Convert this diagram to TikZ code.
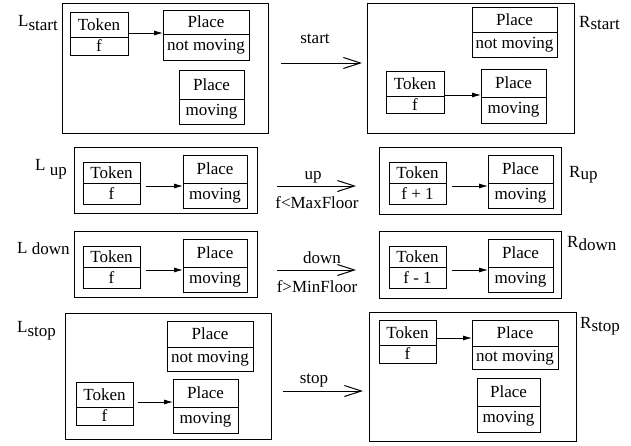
\documentclass[tikz,border=0pt]{standalone}
\usepackage{fontspec}
\setmainfont{Liberation Serif}
\usetikzlibrary{positioning, arrows.meta}

\begin{document}
\begin{tikzpicture}[x=1pt, y=-1pt,
    every node/.style={font=\fontsize{17}{20}\selectfont},
    graphbox/.style={draw, line width=0.8pt},
    cell/.style={draw, line width=0.8pt, inner sep=0pt, outer sep=0pt},
    topcell/.style={cell, anchor=north west},
    link/.style={-{Latex[length=9pt, width=5pt]}, line width=0.8pt},
    rewrite/.style={-{Straight Barb[length=17pt, width=11pt]}, line width=1pt},
    sidelabel/.style={anchor=base west, inner sep=0pt}]
  \useasboundingbox (0,0) rectangle (631,445);

  % start
  \draw[graphbox] (62,3) rectangle (268,133);
  \node[topcell, minimum width=58pt, minimum height=25pt] (tokLs) at (70,12) {Token};
  \node[cell, minimum width=58pt, minimum height=18pt, below=0pt of tokLs] (tokLsv) {f};
  \node[topcell, minimum width=86pt, minimum height=24pt] (nmLs) at (163,10) {Place};
  \node[cell, minimum width=86pt, minimum height=26pt, below=0pt of nmLs] (nmLsv) {not moving};
  \node[topcell, minimum width=65pt, minimum height=29pt] (mvLs) at (179,70) {Place};
  \node[cell, minimum width=65pt, minimum height=25pt, below=0pt of mvLs] (mvLsv) {moving};
  \draw[link] ([yshift=4pt]tokLs.south east) -- ([yshift=4pt]tokLs.south east -| nmLs.west);
  \node[sidelabel] (Lstart) at (18,26) {L\raisebox{-4pt}{start}};

  \draw[graphbox] (367,3) rectangle (574,133);
  \node[topcell, minimum width=85pt, minimum height=25pt] (nmRs) at (472,7) {Place};
  \node[cell, minimum width=85pt, minimum height=25pt, below=0pt of nmRs] (nmRsv) {not moving};
  \node[topcell, minimum width=58pt, minimum height=25pt] (tokRs) at (386,71) {Token};
  \node[cell, minimum width=58pt, minimum height=17pt, below=0pt of tokRs] (tokRsv) {f};
  \node[topcell, minimum width=65pt, minimum height=28pt] (mvRs) at (481,69) {Place};
  \node[cell, minimum width=65pt, minimum height=26pt, below=0pt of mvRs] (mvRsv) {moving};
  \draw[link] ([yshift=1pt]tokRs.south east) -- ([yshift=1pt]tokRs.south east -| mvRs.west);
  \node[sidelabel] (Rstart) at (579,27) {R\raisebox{-2pt}{start}};

  \coordinate (s1) at (281,63);
  \coordinate (s2) at (362,63);
  \draw[rewrite] (s1) -- (s2);
  \node[anchor=base] (start) at (315,43) {start};

  % up and down
  \foreach \dy/\nm/\val in {0/up/{f + 1}, 84/down/{f - 1}} {
    \draw[graphbox] (74,147+\dy) rectangle (257,213+\dy);
    \node[topcell, minimum width=57pt, minimum height=21pt] (tokL\nm) at (83,162+\dy) {Token};
    \node[cell, minimum width=57pt, minimum height=21pt, below=0pt of tokL\nm] (tokL\nm v) {f};
    \node[topcell, minimum width=64pt, minimum height=28pt] (mvL\nm) at (183,155+\dy) {Place};
    \node[cell, minimum width=64pt, minimum height=25pt, below=0pt of mvL\nm] (mvL\nm v) {moving};
    \draw[link, shorten <=6pt] ([yshift=-3pt]tokL\nm.south east) -- ([yshift=-3pt]tokL\nm.south east -| mvL\nm.west);

    \draw[graphbox] (379,147+\dy) rectangle (561,214+\dy);
    \node[topcell, minimum width=57pt, minimum height=21pt] (tokR\nm) at (389,162+\dy) {Token};
    \node[cell, minimum width=57pt, minimum height=21pt, below=0pt of tokR\nm] (tokR\nm v) {\val};
    \node[topcell, minimum width=65pt, minimum height=28pt] (mvR\nm) at (488,155+\dy) {Place};
    \node[cell, minimum width=65pt, minimum height=25pt, below=0pt of mvR\nm] (mvR\nm v) {moving};
    \draw[link, shorten <=6pt] ([yshift=-3pt]tokR\nm.south east) -- ([yshift=-3pt]tokR\nm.south east -| mvR\nm.west);

    \coordinate (\nm1) at (277,186+\dy);
    \coordinate (\nm2) at (356,186+\dy);
    \draw[rewrite] (\nm1) -- (\nm2);
  }
  \node[sidelabel] (Lup) at (35,170) {L \raisebox{-5pt}{up}};
  \node[sidelabel] (Rup) at (569,177) {R\raisebox{-2pt}{up}};
  \node[anchor=base] (up) at (313,179) {up};
  \node[anchor=base] (maxf) at (317,208) {f<MaxFloor};
  \node[sidelabel] (Ldown) at (17,253) {L \raisebox{-1pt}{down}};
  \node[sidelabel] (Rdown) at (567,247) {R\raisebox{-3pt}{down}};
  \node[anchor=base] (down) at (322,263) {down};
  \node[anchor=base] (minf) at (317,292) {f>MinFloor};

  % stop
  \draw[graphbox] (65,313) rectangle (271,439);
  \node[topcell, minimum width=86pt, minimum height=26pt] (nmLt) at (167,321) {Place};
  \node[cell, minimum width=86pt, minimum height=24pt, below=0pt of nmLt] (nmLtv) {not moving};
  \node[topcell, minimum width=57pt, minimum height=25pt] (tokLt) at (76,382) {Token};
  \node[cell, minimum width=57pt, minimum height=18pt, below=0pt of tokLt] (tokLtv) {f};
  \node[topcell, minimum width=65pt, minimum height=28pt] (mvLt) at (173,379) {Place};
  \node[cell, minimum width=65pt, minimum height=26pt, below=0pt of mvLt] (mvLtv) {moving};
  \draw[link, shorten <=5pt] ([yshift=5pt]tokLt.south east) -- ([yshift=5pt]tokLt.south east -| mvLt.west);
  \node[sidelabel] (Lstop) at (17,332) {L\raisebox{-4pt}{stop}};

  \draw[graphbox] (369,312) rectangle (576,441);
  \node[topcell, minimum width=57pt, minimum height=25pt] (tokRt) at (379,320) {Token};
  \node[cell, minimum width=57pt, minimum height=18pt, below=0pt of tokRt] (tokRtv) {f};
  \node[topcell, minimum width=86pt, minimum height=26pt] (nmRt) at (472,320) {Place};
  \node[cell, minimum width=86pt, minimum height=23pt, below=0pt of nmRt] (nmRtv) {not moving};
  \node[topcell, minimum width=63pt, minimum height=28pt] (mvRt) at (477,378) {Place};
  \node[cell, minimum width=63pt, minimum height=26pt, below=0pt of mvRt] (mvRtv) {moving};
  \draw[link] ([yshift=7pt]tokRt.south east) -- ([yshift=7pt]tokRt.south east -| nmRt.west);
  \node[sidelabel] (Rstop) at (580,328) {R\raisebox{-3pt}{stop}};

  \coordinate (t1) at (283,391);
  \coordinate (t2) at (363,391);
  \draw[rewrite] (t1) -- (t2);
  \node[anchor=base] (stop) at (314,383) {stop};
\end{tikzpicture}
\end{document}
